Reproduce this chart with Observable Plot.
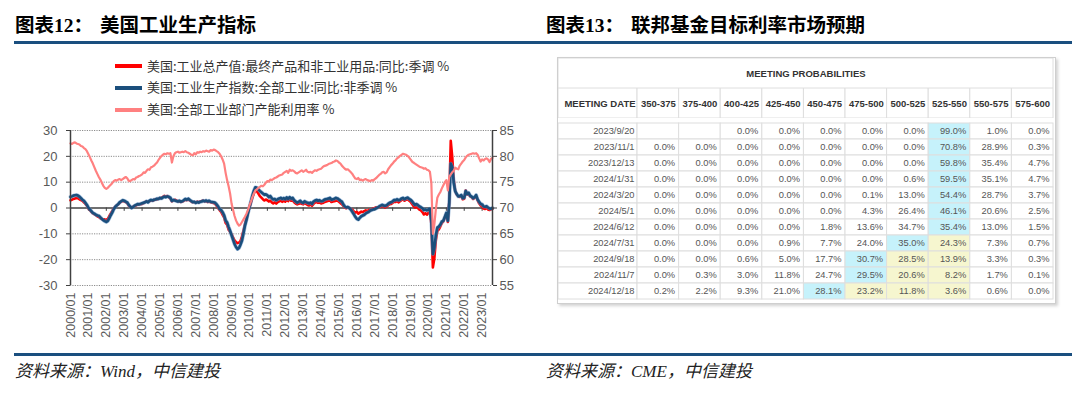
<!DOCTYPE html>
<html><head><meta charset="utf-8">
<script src="https://cdn.jsdelivr.net/npm/d3@7"></script>
<script src="https://cdn.jsdelivr.net/npm/@observablehq/plot@0.6"></script>
<style>
body{margin:0;width:1080px;height:397px;background:#fff;position:relative;overflow:hidden;font-family:"Noto Sans CJK SC",sans-serif;}
.abs{position:absolute;}
.title{font-size:19.5px;font-weight:bold;color:#000;top:11px;line-height:26px;white-space:nowrap;}
.title .num{font-family:"Liberation Serif",serif;}
.title .gap{display:inline-block;width:7px;}
.rule{height:3px;background:#1a4f7f;left:14px;width:1058px;}
.src{font-style:italic;font-size:17px;color:#222;top:360px;line-height:24px;font-family:"Liberation Serif","Noto Sans CJK SC",serif;white-space:nowrap;}
.leg{font-size:13px;color:#333;left:115px;line-height:18px;white-space:nowrap;}
.leg .sw{display:inline-block;width:27px;height:4px;vertical-align:middle;margin-right:5px;position:relative;top:-1px;}
#table{left:557px;top:57px;width:497px;border:1px solid #cfcfcf;box-shadow:2px 2px 3px rgba(0,0,0,0.18);background:#fff;}
#table svg{display:block;}
</style></head><body>
<div class="abs title" style="left:15px">图表<span class="num">12</span>：<span class="gap"></span>美国工业生产指标</div>
<div class="abs title" style="left:546px">图表<span class="num">13</span>：<span class="gap"></span>联邦基金目标利率市场预期</div>
<div class="abs rule" style="top:41px"></div>
<div class="abs rule" style="top:353px"></div>
<div class="abs src" style="left:15px">资料来源：Wind，中信建投</div>
<div class="abs src" style="left:546px">资料来源：CME，中信建投</div>
<div id="legend"></div>
<div id="chart" class="abs" style="left:0;top:120px"></div>
<div id="table" class="abs"></div>
<script>
// ---------- Chart 12 data (monthly, 2000/01 - 2023/08) ----------
const seriesNames = ["美国:工业总产值:最终产品和非工业用品:同比:季调 %","美国:工业生产指数:全部工业:同比:非季调 %","美国:全部工业部门产能利用率 %"];
const seriesColors = ["#ff0000","#1b4f7c","#ff8080"];
const ipFinal = [
 3.0,3.2,3.5,3.7,3.9,3.8,3.4,3.1,2.8,2.2,1.6,0.9,
 -0.2,-0.8,-1.5,-2.0,-2.4,-2.8,-3.2,-3.5,-3.9,-4.3,-4.5,-4.4,
 -4.6,-4.2,-3.2,-2.2,-1.2,-0.2,0.5,1.0,1.4,2.0,2.5,2.7,
 2.6,2.3,2.0,1.0,0.5,0.1,0.5,0.8,1.0,1.3,1.4,1.5,
 1.6,1.9,2.3,2.5,2.4,2.6,3.0,2.8,3.1,3.4,3.3,3.6,
 3.8,4.0,4.3,4.7,4.5,4.6,4.2,3.7,2.6,3.0,3.2,2.9,
 2.6,2.5,2.3,2.5,2.8,3.2,3.0,3.4,2.9,2.5,2.2,2.3,
 2.1,2.5,2.2,2.6,2.7,2.9,2.5,2.7,2.3,2.5,2.2,2.0,
 1.9,1.6,0.9,0.0,-0.8,-1.5,-2.6,-3.6,-5.8,-6.5,-8.4,-9.2,
 -10.2,-11.4,-12.5,-13.2,-13.6,-13.4,-12.8,-11.0,-8.7,-6.3,-4.0,-1.8,
 0.2,2.2,4.0,5.6,6.8,6.5,5.6,4.6,4.0,3.4,2.9,3.3,
 3.0,2.5,2.9,2.2,1.8,2.2,1.7,2.3,2.6,2.9,2.4,2.8,
 2.5,3.2,2.7,3.4,2.8,3.0,2.2,1.7,1.4,1.6,2.0,1.6,
 1.4,2.0,1.6,1.2,1.0,1.4,0.9,1.6,2.1,2.3,2.0,2.1,
 1.8,1.9,2.2,2.4,2.6,2.8,3.0,2.3,2.5,2.6,2.9,2.8,
 2.4,1.9,1.5,0.8,0.2,-0.1,0.3,0.0,-0.5,-0.6,-1.3,-1.8,
 -1.5,-2.2,-1.8,-1.4,-1.6,-1.2,-0.9,-1.3,-0.7,-0.9,-0.5,-0.2,
 0.0,0.3,0.1,0.5,0.4,0.8,0.5,0.2,0.6,1.1,1.5,1.6,
 2.0,2.5,2.3,2.8,2.2,2.6,3.1,3.3,2.8,3.2,3.4,2.9,
 2.4,1.6,0.8,0.2,0.4,0.0,-0.6,-0.9,-1.6,-2.5,-2.0,-2.6,
 -1.9,-1.4,-6.1,-23.0,-19.5,-12.4,-8.9,-8.3,-7.1,-5.8,-5.2,-3.6,
 -2.2,-5.4,2.4,26.0,19.8,10.8,6.6,5.2,4.6,4.3,4.8,3.4,
 3.6,6.8,5.2,5.6,4.5,4.2,3.5,4.0,4.6,3.0,1.8,1.0,
 0.6,-0.2,-0.4,0.1,-0.6,-0.8,-0.5,-0.3
];
const ipTotal = [
 4.3,4.5,4.8,4.9,5.0,4.8,4.4,3.8,3.2,2.8,2.0,1.2,
 0.1,-0.6,-1.2,-1.9,-2.2,-2.6,-2.9,-3.0,-3.6,-4.2,-4.7,-5.1,
 -5.4,-5.0,-4.0,-2.8,-1.8,-0.5,0.4,1.0,1.5,2.2,2.6,3.0,
 2.8,2.5,2.2,1.3,0.6,0.0,0.4,0.9,1.2,1.5,1.4,1.6,
 1.8,2.0,2.2,2.6,2.2,2.8,3.1,2.9,3.2,3.3,3.6,3.5,
 3.9,3.7,4.1,4.4,4.2,4.5,4.3,3.9,2.8,3.1,2.9,2.7,
 2.5,2.8,2.4,2.6,3.0,3.5,3.2,3.6,3.1,2.7,2.3,2.4,
 2.0,2.3,2.1,2.4,2.5,2.8,2.6,2.9,2.5,2.8,2.4,2.3,
 2.2,2.0,1.4,0.6,-0.4,-0.8,-1.6,-2.8,-4.8,-5.6,-7.3,-8.8,
 -10.6,-12.3,-13.9,-15.1,-15.9,-15.5,-14.2,-12.6,-9.8,-6.8,-4.6,-2.0,
 0.3,2.6,4.8,6.7,8.0,7.8,7.2,6.6,6.1,5.6,5.1,5.3,
 4.9,4.2,4.6,3.8,3.3,3.5,3.0,3.4,3.7,3.9,3.5,3.8,
 3.4,4.1,3.5,4.2,3.6,3.9,3.0,2.5,2.1,2.4,2.8,2.2,
 2.0,2.6,2.3,2.0,1.8,2.1,1.6,2.5,2.9,3.1,2.8,3.0,
 2.6,2.7,3.1,3.4,3.5,3.7,3.9,3.2,3.4,3.6,3.9,3.7,
 3.3,2.8,2.5,1.4,0.6,0.2,0.4,0.0,-0.6,-1.5,-2.4,-3.4,
 -4.2,-4.5,-3.8,-3.2,-2.9,-2.6,-2.1,-1.8,-1.5,-1.0,-0.8,-0.6,
 -0.4,-0.1,0.2,0.6,0.9,1.2,1.0,0.8,1.1,1.6,2.0,2.2,
 2.6,3.1,3.0,3.4,3.0,3.2,3.7,3.9,3.4,3.8,4.0,3.6,
 3.2,2.6,1.9,1.2,1.5,1.1,0.6,0.3,-0.1,-0.8,-0.6,-0.9,
 -0.6,-0.3,-4.9,-17.8,-15.4,-10.5,-7.6,-7.2,-6.4,-5.3,-4.9,-3.5,
 -1.9,-4.9,1.8,17.2,15.8,9.8,6.5,5.4,4.5,4.6,5.0,3.8,
 4.0,6.6,5.4,5.9,4.8,4.4,3.8,4.2,5.0,3.3,2.4,1.6,
 1.4,0.6,0.5,0.7,0.2,-0.2,-0.3,0.0
];
const capUtil = [
 82.5,82.4,82.6,82.7,82.5,82.4,82.3,82.0,81.9,81.6,81.4,81.0,
 80.4,79.8,79.2,78.6,77.9,77.2,76.6,76.0,75.5,74.9,74.3,73.9,
 73.7,73.9,74.2,74.5,74.8,75.2,75.4,75.3,75.5,75.6,75.4,75.6,
 75.8,76.0,75.8,75.3,75.2,75.4,75.6,75.5,75.9,76.0,76.2,76.3,
 76.5,76.9,76.8,77.2,77.5,77.4,77.9,78.0,78.2,78.5,78.8,79.3,
 79.7,80.1,80.3,80.5,80.4,80.6,80.5,80.6,78.8,80.0,80.6,80.8,
 80.9,80.7,80.8,80.9,80.8,81.0,80.8,80.7,80.5,80.3,80.2,80.6,
 80.4,80.8,80.7,80.9,80.8,81.0,80.9,81.1,81.0,80.9,81.2,81.1,
 81.3,81.2,81.0,80.8,80.5,80.0,79.4,78.6,76.8,75.4,74.2,72.8,
 70.8,69.6,68.5,67.6,67.0,66.6,66.8,67.3,67.8,68.3,68.9,69.6,
 70.5,71.3,72.1,72.8,73.4,73.6,73.9,74.1,74.3,74.2,74.5,74.9,
 75.2,75.1,75.5,75.4,75.6,75.8,75.9,76.1,76.3,76.4,76.5,76.8,
 77.0,77.2,76.8,77.4,77.2,77.3,77.1,76.8,76.7,76.9,77.1,77.3,
 77.0,77.2,77.4,77.0,76.9,77.0,76.8,77.1,77.3,77.2,77.4,77.5,
 77.6,77.9,78.1,78.2,78.3,78.5,78.6,78.7,78.9,79.0,79.2,79.1,
 78.8,78.6,78.2,77.9,77.6,77.4,77.5,77.2,76.9,76.6,76.1,75.7,
 75.6,75.8,75.4,75.5,75.3,75.5,75.6,75.4,75.3,75.2,75.4,75.3,
 75.6,75.8,76.1,76.4,76.6,76.9,77.0,76.7,76.9,77.5,77.9,78.3,
 78.6,79.0,79.2,79.6,79.8,80.1,80.3,80.5,80.4,80.3,80.1,79.8,
 79.4,79.0,78.8,78.6,78.4,78.2,78.0,77.9,77.8,77.6,77.7,77.4,
 77.3,77.0,74.8,65.0,66.8,69.8,72.0,72.6,73.1,73.8,74.4,75.0,
 75.4,73.4,76.0,76.5,76.9,77.2,77.8,77.6,77.5,78.2,78.6,79.0,
 79.3,79.8,80.1,80.3,80.4,80.5,80.6,80.5,80.6,80.3,79.6,79.0,
 79.4,79.2,79.5,79.6,79.4,78.9,79.5,79.7
];
const leftTicks = [-30,-20,-10,0,10,20,30];
const rightTicks = [55,60,65,70,75,80,85];

// ---------- Chart 13 data ----------
const rateCols = ["350-375","375-400","400-425","425-450","450-475","475-500","500-525","525-550","550-575","575-600"];
const meetingDates = ["2023/9/20","2023/11/1","2023/12/13","2024/1/31","2024/3/20","2024/5/1","2024/6/12","2024/7/31","2024/9/18","2024/11/7","2024/12/18"];
const probs = [
 [null,null,0.0,0.0,0.0,0.0,0.0,99.0,1.0,0.0],
 [0.0,0.0,0.0,0.0,0.0,0.0,0.0,70.8,28.9,0.3],
 [0.0,0.0,0.0,0.0,0.0,0.0,0.0,59.8,35.4,4.7],
 [0.0,0.0,0.0,0.0,0.0,0.0,0.6,59.5,35.1,4.7],
 [0.0,0.0,0.0,0.0,0.0,0.1,13.0,54.4,28.7,3.7],
 [0.0,0.0,0.0,0.0,0.0,4.3,26.4,46.1,20.6,2.5],
 [0.0,0.0,0.0,0.0,1.8,13.6,34.7,35.4,13.0,1.5],
 [0.0,0.0,0.0,0.9,7.7,24.0,35.0,24.3,7.3,0.7],
 [0.0,0.0,0.6,5.0,17.7,30.7,28.5,13.9,3.3,0.3],
 [0.0,0.3,3.0,11.8,24.7,29.5,20.6,8.2,1.7,0.1],
 [0.2,2.2,9.3,21.0,28.1,23.2,11.8,3.6,0.6,0.0]
];
const currentRange = "525-550";

// ---------- Legend ----------
const legend = document.getElementById("legend");
const legTops = [56.5, 78.2, 100.2];
seriesNames.forEach((n,i)=>{
  const d = document.createElement("div");
  d.className = "abs leg";
  d.style.top = legTops[i] + "px";
  d.innerHTML = `<span class="sw" style="background:${seriesColors[i]}"></span>${n}`;
  legend.appendChild(d);
});

// ---------- Chart 12 ----------
const start = new Date(Date.UTC(2000,0,1));
const months = d3.utcMonth.range(start, new Date(Date.UTC(2023,8,1)));
const n = Math.min(months.length, ipFinal.length, ipTotal.length, capUtil.length);
const data = d3.range(n).map(i=>({date:months[i], red:ipFinal[i], blue:ipTotal[i], cu:capUtil[i]}));
const xEnd = months[n-1];
const yearTicks = d3.utcYear.range(start, new Date(Date.UTC(2023,1,1)));
const toLeft = v => (v-70)*2;

const chart = Plot.plot({
  width:540, height:240, marginTop:10, marginBottom:75, marginLeft:70, marginRight:48,
  x:{type:"utc", domain:[start, xEnd]},
  y:{domain:[-30,30]},
  style:{fontFamily:"'Liberation Sans', Arial, sans-serif", color:"#595959", background:"transparent", overflow:"visible"},
  marks:[
    Plot.ruleY(leftTicks.filter(d=>d!==0), {stroke:"#8c8c8c", strokeWidth:1, strokeDasharray:"1.2,1.2"}),
    Plot.ruleY([0], {stroke:"#404040", strokeWidth:1.4}),
    Plot.ruleX(yearTicks, {x:d=>d, y1:0, y2:-1.3, stroke:"#404040", strokeWidth:1}),
    Plot.line(data, {x:"date", y:"red", stroke:seriesColors[0], strokeWidth:2.6}),
    Plot.line(data, {x:"date", y:"blue", stroke:"#5d8fc4", strokeWidth:3.8, strokeOpacity:0.6}),
    Plot.line(data, {x:"date", y:"blue", stroke:seriesColors[1], strokeWidth:2.6}),
    Plot.line(data, {x:"date", y:d=>toLeft(d.cu), stroke:seriesColors[2], strokeWidth:2.2}),
    Plot.ruleX([start], {stroke:"#404040", strokeWidth:1.5}),
    Plot.ruleX([xEnd], {stroke:"#404040", strokeWidth:1.5}),
    Plot.axisY(leftTicks, {anchor:"left", tickSize:4, tickPadding:9, fontSize:13, tickFormat:d=>String(d), stroke:"#404040"}),
    Plot.axisY(rightTicks.map(toLeft), {anchor:"right", tickSize:4, tickPadding:3, fontSize:13, tickFormat:d=>String(d/2+70), stroke:"#404040"}),
    Plot.axisX(yearTicks, {anchor:"bottom", tickSize:0, tickPadding:7, tickRotate:-90, fontSize:12.5, tickFormat:d3.utcFormat("%Y/%m")})
  ]
});
document.getElementById("chart").appendChild(chart);

// ---------- Chart 13 table ----------
const dateColW = 1.9; // width of the date column in rate-column units
const colIdx = c => rateCols.indexOf(c);
const cells = [];
probs.forEach((row,ri)=>{
  const maxV = d3.max(row);
  const maxI = row.indexOf(maxV);
  const curI = colIdx(currentRange);
  row.forEach((v,ci)=>{
    let fill = "#ffffff";
    if (ci === maxI) fill = "#c6f2fb";
    else if (ci > maxI && ci <= curI) fill = "#f6f6cf";
    cells.push({date:meetingDates[ri], col:rateCols[ci], v, fill});
  });
});
const tW = 497;
const xCfg = {type:"linear", domain:[-dateColW, rateCols.length], axis:null};
const base = {width:tW, marginLeft:0, marginRight:2, marginTop:0, marginBottom:0,
  style:{fontFamily:"'Liberation Sans', Arial, sans-serif", background:"transparent"}};
const gridStroke = "#dedede";

const titleRow = Plot.plot({...base, height:30, x:xCfg,
  y:{domain:["t"], axis:null, padding:0},
  marks:[
    Plot.barX(["MEETING PROBABILITIES"], {x1:-dateColW, x2:rateCols.length, y:()=>"t", fill:"#fff", stroke:gridStroke}),
    Plot.text(["MEETING PROBABILITIES"], {x:(rateCols.length-dateColW)/2, y:()=>"t", text:d=>d, fontWeight:"bold", fontSize:9.5, fill:"#333"})
  ]});
const headRow = Plot.plot({...base, height:30, x:xCfg,
  y:{domain:["h"], axis:null, padding:0},
  marks:[
    Plot.barX(["MEETING DATE"], {x1:-dateColW, x2:0, y:()=>"h", fill:"#fff", stroke:gridStroke}),
    Plot.barX(rateCols, {x1:d=>colIdx(d), x2:d=>colIdx(d)+1, y:()=>"h", fill:"#fff", stroke:gridStroke}),
    Plot.text(["MEETING DATE"], {x:0, y:()=>"h", dx:-2, textAnchor:"end", text:d=>d, fontWeight:"bold", fontSize:9.5, fill:"#333"}),
    Plot.text(rateCols, {x:d=>colIdx(d)+0.5, y:()=>"h", text:d=>d, fontWeight:"bold", fontSize:9.5, fill:"#333"})
  ]});
const bodyRows = Plot.plot({...base, height:185, x:xCfg,
  y:{domain:meetingDates, axis:null, padding:0},
  marks:[
    Plot.barX(meetingDates, {x1:-dateColW, x2:0, y:d=>d, fill:"#fff", stroke:gridStroke}),
    Plot.barX(cells, {x1:d=>colIdx(d.col), x2:d=>colIdx(d.col)+1, y:"date", fill:"fill", stroke:gridStroke}),
    Plot.text(meetingDates, {x:0, y:d=>d, dx:-3, textAnchor:"end", text:d=>d, fontSize:9.3, fill:"#555"}),
    Plot.text(cells.filter(d=>d.v!=null), {x:d=>colIdx(d.col)+1, y:"date", dx:-4, textAnchor:"end", text:d=>d.v.toFixed(1)+"%", fontSize:9.3, fill:"#555"})
  ]});
const tbl = document.getElementById("table");
tbl.appendChild(titleRow); tbl.appendChild(headRow); tbl.appendChild(bodyRows);
</script>
</body></html>
